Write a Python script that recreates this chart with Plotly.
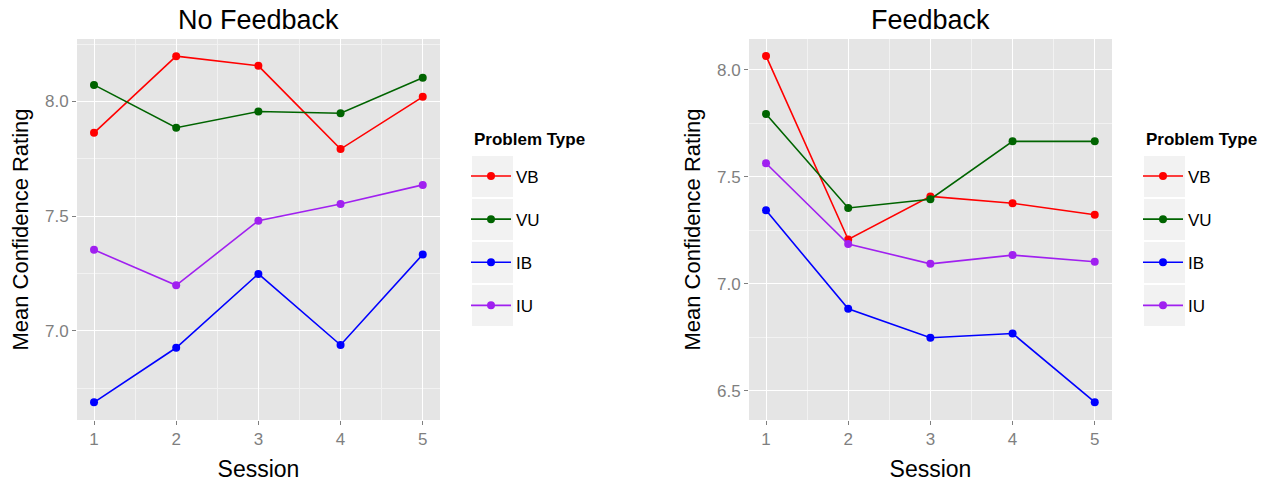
import plotly.graph_objects as go

sessions = [1, 2, 3, 4, 5]
problem_types = ["VB", "VU", "IB", "IU"]
colors = ["#FF0000", "#006400", "#0000FF", "#A020F0"]

nofb_VB = [7.863, 8.197, 8.155, 7.792, 8.020]
nofb_VU = [8.072, 7.885, 7.956, 7.948, 8.103]
nofb_IB = [6.688, 6.926, 7.248, 6.938, 7.333]
nofb_IU = [7.353, 7.198, 7.480, 7.553, 7.636]

fb_VB = [8.064, 7.207, 7.408, 7.376, 7.322]
fb_VU = [7.793, 7.354, 7.395, 7.665, 7.665]
fb_IB = [7.343, 6.883, 6.748, 6.768, 6.447]
fb_IU = [7.563, 7.186, 7.093, 7.134, 7.103]

panel_titles = ["No Feedback", "Feedback"]
x_title = "Session"
y_title = "Mean Confidence Rating"
legend_title = "Problem Type"

nofb = [nofb_VB, nofb_VU, nofb_IB, nofb_IU]
fb = [fb_VB, fb_VU, fb_IB, fb_IU]

W, H = 1264, 482
FONT = "Liberation Sans, Arial, Helvetica, sans-serif"

fig = go.Figure()
for data, xa, ya, lg in [(nofb, "x", "y", "legend"), (fb, "x2", "y2", "legend2")]:
    for name, vals, col in zip(problem_types, data, colors):
        fig.add_trace(go.Scatter(
            x=sessions, y=vals, name=name, mode="lines+markers",
            line=dict(color=col, width=1.6),
            marker=dict(color=col, size=8),
            xaxis=xa, yaxis=ya, legend=lg,
            legendgroup=f"{lg}_{name}",
        ))

def px_x(p):
    return p / W

def px_y(p):
    return 1 - p / H

dom1 = [px_x(77), px_x(440)]
dom2 = [px_x(749), px_x(1112)]
ydom = [px_y(420), px_y(39)]

axis_common = dict(
    showgrid=True, gridcolor="white", gridwidth=1.3,
    zeroline=False, showline=False,
    ticks="outside", ticklen=4, tickwidth=1, tickcolor="#7F7F7F",
    tickfont=dict(family=FONT, size=17, color="#7F7F7F"),
    automargin=False,
)

minor = dict(showgrid=True, gridcolor="#F2F2F2", gridwidth=0.6)

xaxis_cfg = dict(axis_common, range=[0.793, 5.21], tickvals=sessions,
                 minor=dict(minor, dtick=0.5, tick0=0.5),
                 title=dict(text=x_title, font=dict(family=FONT, size=23, color="black"), standoff=19))

ytitle = dict(text=y_title, font=dict(family=FONT, size=22, color="black"), standoff=10)

fig.update_layout(
    width=W, height=H,
    margin=dict(l=0, r=0, t=0, b=0),
    paper_bgcolor="white", plot_bgcolor="#E5E5E5",
    font=dict(family=FONT),
    showlegend=True,
    xaxis=dict(xaxis_cfg, domain=dom1, anchor="y"),
    xaxis2=dict(xaxis_cfg, domain=dom2, anchor="y2"),
    yaxis=dict(axis_common, domain=ydom, anchor="x", range=[6.611, 8.272],
               dtick=0.5, tick0=0, tickformat=".1f",
               minor=dict(minor, dtick=0.25, tick0=0.25), title=ytitle),
    yaxis2=dict(axis_common, domain=ydom, anchor="x2", range=[6.364, 8.143],
                dtick=0.5, tick0=0, tickformat=".1f",
                minor=dict(minor, dtick=0.25, tick0=0.25), title=ytitle),
)

legend_cfg = dict(
    font=dict(family=FONT, size=17, color="black"),
    bgcolor="rgba(0,0,0,0)", borderwidth=0,
    xanchor="left", yanchor="top", y=px_y(158.5),
    tracegroupgap=18, traceorder="grouped", itemwidth=40,
)
fig.update_layout(
    legend=dict(legend_cfg, x=px_x(466)),
    legend2=dict(legend_cfg, x=px_x(1138)),
)

# panel titles
for t, dom in zip(panel_titles, [dom1, dom2]):
    fig.add_annotation(text=t, x=(dom[0] + dom[1]) / 2, y=px_y(20), xref="paper", yref="paper",
                       showarrow=False, font=dict(family=FONT, size=27, color="black"),
                       xanchor="center", yanchor="middle")

# legend titles and key backgrounds
for left in [472, 1144]:
    fig.add_annotation(text="<b>" + legend_title + "</b>", x=px_x(left), y=px_y(139),
                       xref="paper", yref="paper", showarrow=False, xanchor="left", yanchor="middle",
                       font=dict(family=FONT, size=17, color="black"))
    for i in range(4):
        top = 156 + 43 * i
        fig.add_shape(type="rect", xref="paper", yref="paper",
                      x0=px_x(left), x1=px_x(left + 41), y0=px_y(top + 41), y1=px_y(top),
                      fillcolor="#F2F2F2", line=dict(width=0), layer="below")

fig.write_html("out.html", post_script="document.body.style.margin='0';",
               config={"displayModeBar": False})
